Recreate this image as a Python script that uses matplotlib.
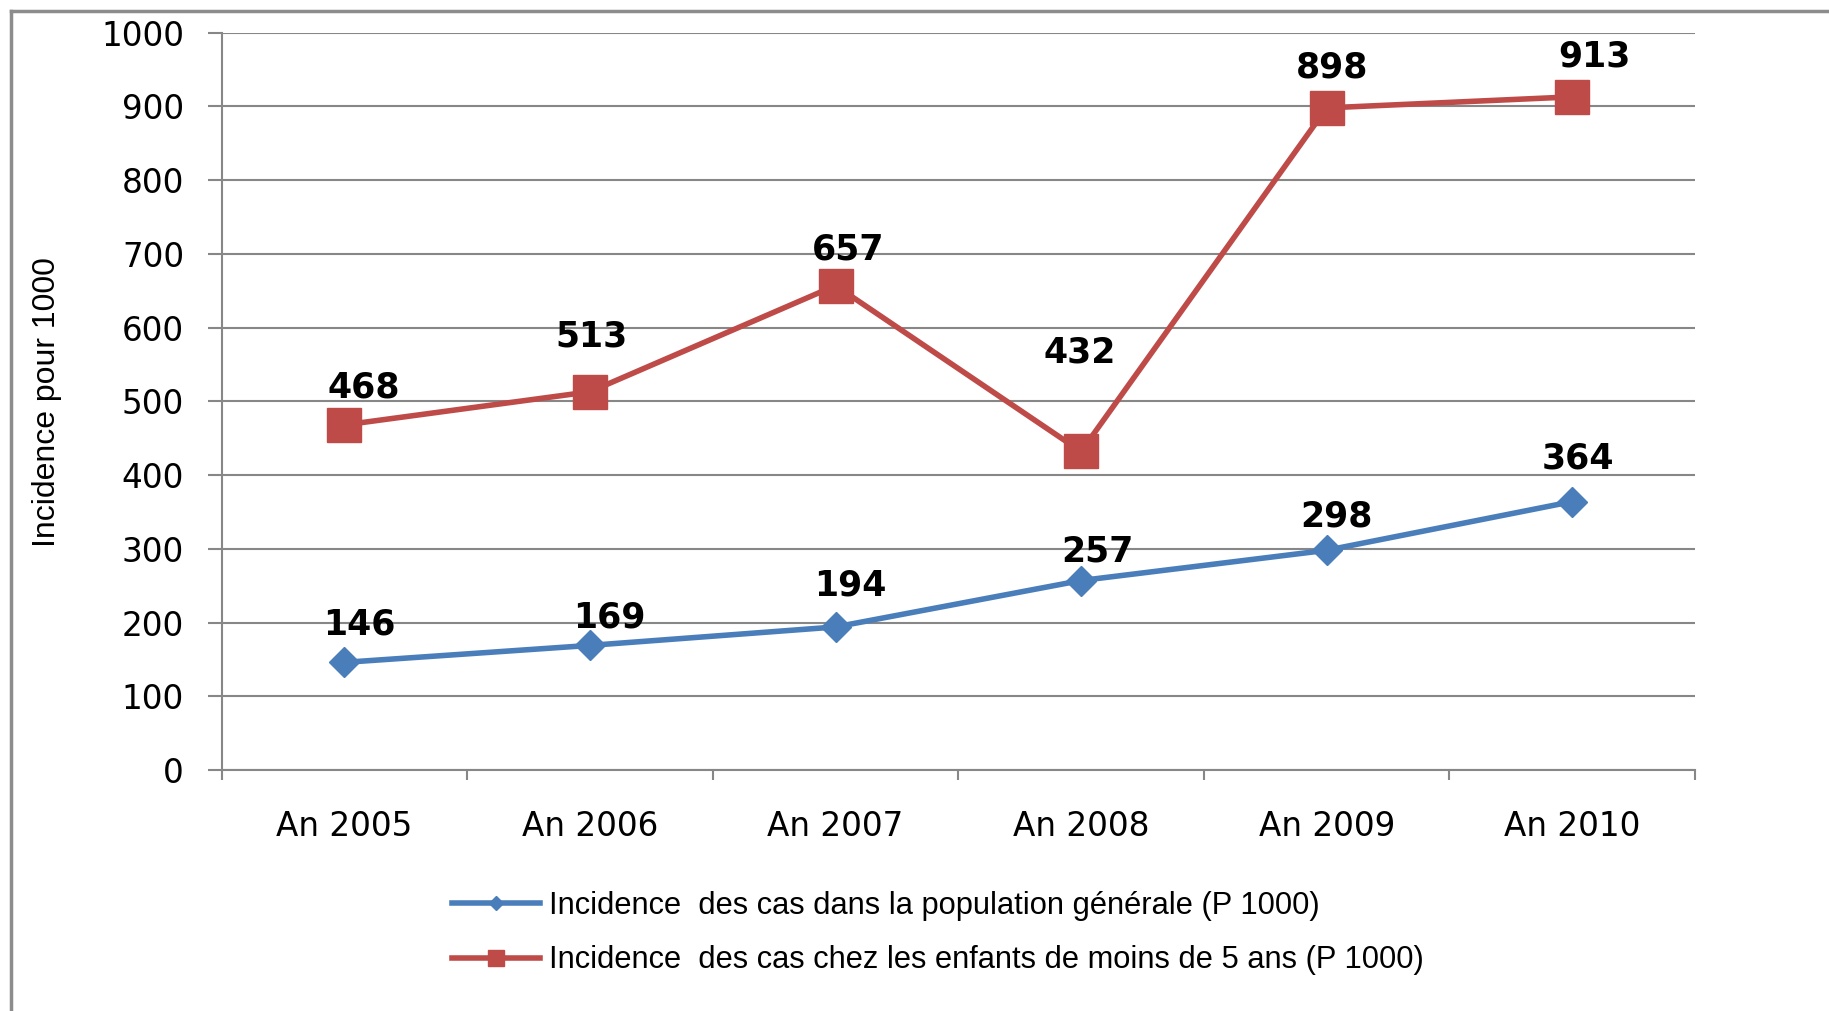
import matplotlib
matplotlib.use("Agg")
import matplotlib.pyplot as plt
from matplotlib.lines import Line2D
from matplotlib.ticker import FixedLocator

categories = ["An 2005", "An 2006", "An 2007", "An 2008", "An 2009", "An 2010"]
general = [146, 169, 194, 257, 298, 364]
children = [468, 513, 657, 432, 898, 913]
series_names = ["Incidence  des cas dans la population générale (P 1000)",
                "Incidence  des cas chez les enfants de moins de 5 ans (P 1000)"]
y_ticks = [0, 100, 200, 300, 400, 500, 600, 700, 800, 900, 1000]
y_label = "Incidence pour 1000"

# label offsets (points) relative to each marker
off_general = [(11, 27), (14, 20), (11, 30), (12, 21), (7, 24), (4, 31)]
off_children = [(14, 27), (1, 40), (9, 26), (-1, 71), (4, 29), (16, 29)]

narrow = ["Liberation Sans Narrow", "Liberation Sans", "DejaVu Sans"]

W, H = 1829, 1011
fig = plt.figure(figsize=(W / 100, H / 100), dpi=100)
ax = fig.add_axes([221.6 / W, 1 - 770 / H, (1695 - 221.6) / W, (770 - 32.7) / H])

blue = "#4A7EBB"
red = "#BE4B48"
grid_c = "#878787"

x = list(range(len(categories)))
ax.plot(x, general, color=blue, lw=4, marker="D", ms=15, mec=blue, mfc=blue,
        label=series_names[0], zorder=3)
ax.plot(x, children, color=red, lw=4, marker="s", ms=24, mec=red, mfc=red,
        label=series_names[1], zorder=3)

for xi, v, o in zip(x, general, off_general):
    ax.annotate(str(v), (xi, v), xytext=o, textcoords="offset points",
                ha="center", va="center", fontsize=25, fontweight="bold",
                family="DejaVu Sans", color="black", zorder=4)
for xi, v, o in zip(x, children, off_children):
    ax.annotate(str(v), (xi, v), xytext=o, textcoords="offset points",
                ha="center", va="center", fontsize=25, fontweight="bold",
                family="DejaVu Sans", color="black", zorder=4)

ax.set_xlim(-0.5, len(categories) - 0.5)
ax.set_ylim(0, 1000)
ax.set_yticks(y_ticks)
ax.set_yticklabels([str(t) for t in y_ticks], fontsize=23.5, family="DejaVu Sans")
ax.set_xticks(x)
ax.set_xticklabels(categories, fontsize=23.5, family="DejaVu Sans")
ax.xaxis.set_minor_locator(FixedLocator([i - 0.5 for i in range(len(categories) + 1)]))
ax.tick_params(axis="x", which="major", length=0, pad=29)
ax.tick_params(axis="x", which="minor", length=7, width=1.5, color=grid_c, direction="out")
ax.tick_params(axis="y", length=10, width=1.5, color=grid_c, pad=17)
ax.yaxis.grid(True, color=grid_c, lw=1.5)
ax.set_axisbelow(True)
for s in ["top", "right"]:
    ax.spines[s].set_visible(False)
for s in ["left", "bottom"]:
    ax.spines[s].set_color(grid_c)
    ax.spines[s].set_linewidth(1.5)

fig.text(47 / W, 1 - 402 / H, y_label, rotation=90, ha="center", va="center",
         fontsize=23, family=narrow)

leg = fig.legend(loc="center left", bbox_to_anchor=(452 / W, 1 - 933 / H),
                 frameon=False, borderpad=0, borderaxespad=0,
                 handlelength=2.85, handletextpad=0.3, labelspacing=0.8,
                 prop={"family": narrow, "size": 22.2}, markerscale=0.5)

# outer frame (partially visible in the reference)
fig.add_artist(Line2D([11 / W, 11 / W], [0, 1 - 11 / H], color="#8c8c8c", lw=2.5,
                      transform=fig.transFigure))
fig.add_artist(Line2D([11 / W, 1], [1 - 11 / H, 1 - 11 / H], color="#8c8c8c", lw=2.5,
                      transform=fig.transFigure))

fig.savefig("out.png", dpi=100, facecolor="white")
